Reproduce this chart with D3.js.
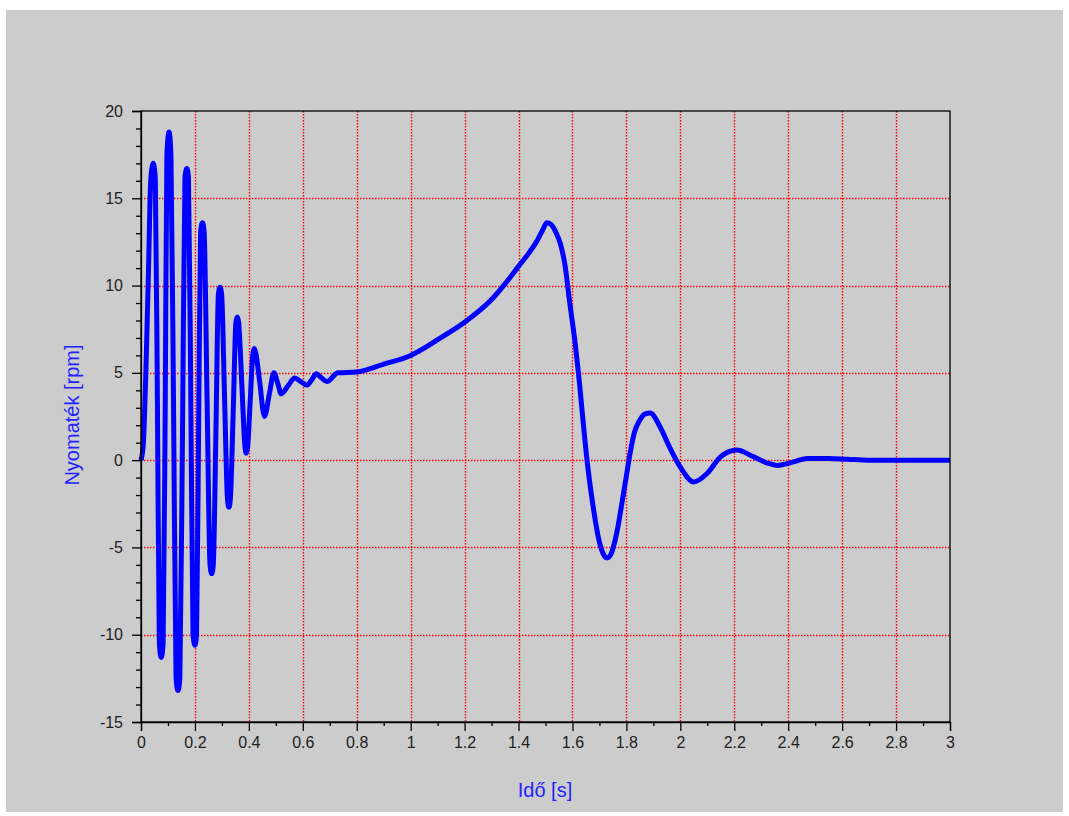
<!DOCTYPE html>
<html>
<head>
<meta charset="utf-8">
<script src="https://cdn.jsdelivr.net/npm/d3@7"></script>
<style>
  body { margin: 0; background: #ffffff; }
  svg { display: block; }
</style>
</head>
<body>
<div id="chart"></div>
<script>
// idő (s)
var timeS = [0, 0.008, 0.018, 0.028, 0.036, 0.045, 0.053, 0.061, 0.068, 0.075, 0.082, 0.09,
  0.096, 0.104, 0.111, 0.121, 0.13, 0.137, 0.144, 0.154, 0.163, 0.17, 0.176, 0.185,
  0.193, 0.2, 0.206, 0.214, 0.221, 0.228, 0.234, 0.245, 0.256, 0.262, 0.268, 0.278,
  0.287, 0.293, 0.299, 0.31, 0.321, 0.326, 0.331, 0.342, 0.352, 0.357, 0.362, 0.374,
  0.386, 0.39, 0.395, 0.405, 0.415, 0.42, 0.426, 0.44, 0.458, 0.476, 0.493, 0.507, 0.52,
  0.545, 0.57, 0.593, 0.615, 0.633, 0.65, 0.67, 0.69, 0.73, 0.8, 0.9, 1.0, 1.07, 1.1, 1.2,
  1.3, 1.35, 1.4, 1.44, 1.47, 1.49, 1.505, 1.52, 1.54, 1.555, 1.572, 1.59, 1.61, 1.622,
  1.654, 1.68, 1.70, 1.715, 1.728, 1.745, 1.758, 1.77, 1.784, 1.80, 1.815, 1.83, 1.85,
  1.87, 1.888, 1.925, 1.96, 2.0, 2.05, 2.10, 2.15, 2.21, 2.27, 2.32, 2.36, 2.42, 2.47,
  2.55, 2.62, 2.7, 2.8, 3.0];

// nyomaték
var torque = [0, 0.8, 5, 11, 16.0, 17.0, 16.2, 3, -10.5, -11.3, -10.5, 3.5,
  17.5, 18.8, 17.5, 2.5, -12.5, -13.2, -12.5, 1.8, 16.2, 16.7, 16.2, 3,
  -10.0, -10.6, -10.0, 2.5, 13.1, 13.6, 13.1, 3.5, -6.0, -6.5, -6.0, 1.8,
  9.5, 9.9, 9.5, 3.5, -2.3, -2.7, -2.3, 2.8, 7.9, 8.2, 7.9, 4.3,
  0.7, 0.4, 0.7, 3.4, 6.1, 6.4, 6.1, 4.5, 2.5, 3.8, 5.0, 4.4, 3.8,
  4.25, 4.7, 4.5, 4.3, 4.6, 4.95, 4.7, 4.5, 5.0, 5.05, 5.5, 6.0, 6.6, 6.9, 7.9,
  9.2, 10.1, 11.1, 11.9, 12.6, 13.2, 13.6, 13.5, 13.0, 12.4, 11.2, 9.0, 6.7, 5.0,
  0, -3.0, -4.7, -5.4, -5.6, -5.3, -4.6, -3.7, -2.4, -0.9, 0.5, 1.6, 2.3,
  2.65, 2.7, 1.9, 0.75, -0.4, -1.25, -0.75, 0.2, 0.58, 0.2, -0.15, -0.3, -0.1, 0.1,
  0.1, 0.05, 0, 0, 0];

// tengelyek
var xTicks = [0, 0.2, 0.4, 0.6, 0.8, 1, 1.2, 1.4, 1.6, 1.8, 2, 2.2, 2.4, 2.6, 2.8, 3];
var xTickLabels = ["0", "0.2", "0.4", "0.6", "0.8", "1", "1.2", "1.4", "1.6", "1.8", "2", "2.2", "2.4", "2.6", "2.8", "3"];
var xMinor = [0.1, 0.3, 0.5, 0.7, 0.9, 1.1, 1.3, 1.5, 1.7, 1.9, 2.1, 2.3, 2.5, 2.7, 2.9];
var yTicks = [-15, -10, -5, 0, 5, 10, 15, 20];
var yTickLabels = ["-15", "-10", "-5", "0", "5", "10", "15", "20"];
var yMinor = [-14, -13, -12, -11, -9, -8, -7, -6, -4, -3, -2, -1, 1, 2, 3, 4,
  6, 7, 8, 9, 11, 12, 13, 14, 16, 17, 18, 19];

var width = 1069;
var height = 816;
var margin = { top: 111, bottom: 94, left: 141, right: 119 };

var svg = d3.select("#chart")
  .append("svg")
  .attr("width", width)
  .attr("height", height);

// szürke háttér
svg.append("rect")
  .attr("x", 6)
  .attr("y", 10)
  .attr("width", 1057)
  .attr("height", 802)
  .style("fill", "#cccccc");

var escalaX = d3.scaleLinear()
  .domain([0, 3])
  .range([margin.left, width - margin.right]);

var escalaY = d3.scaleLinear()
  .domain([-15, 20])
  .range([height - margin.bottom, margin.top]);

// rács
var grid = svg.append("g");
grid.selectAll(".gx")
  .data(xTicks.slice(1, -1))
  .enter()
  .append("line")
  .attr("x1", function (d) { return Math.round(escalaX(d)) + 0.5; })
  .attr("x2", function (d) { return Math.round(escalaX(d)) + 0.5; })
  .attr("y1", escalaY(20))
  .attr("y2", escalaY(-15))
  .attr("stroke", "#ff0000")
  .attr("stroke-width", 1.4)
  .attr("stroke-dasharray", "1.4,1.6");

grid.selectAll(".gy")
  .data(yTicks.slice(1, -1))
  .enter()
  .append("line")
  .attr("y1", function (d) { return Math.round(escalaY(d)) + 0.5; })
  .attr("y2", function (d) { return Math.round(escalaY(d)) + 0.5; })
  .attr("x1", escalaX(0))
  .attr("x2", escalaX(3))
  .attr("stroke", "#ff0000")
  .attr("stroke-width", 1.4)
  .attr("stroke-dasharray", "1.4,1.6");

// görbe
var dataset = timeS.map(function (t, i) { return { t: t, v: torque[i] }; });

var line = d3.line()
  .x(function (d) { return escalaX(d.t); })
  .y(function (d) { return escalaY(d.v); })
  .curve(d3.curveMonotoneX);

svg.append("path")
  .datum(dataset)
  .attr("fill", "none")
  .attr("stroke", "#0000ff")
  .attr("stroke-width", 5)
  .attr("stroke-linejoin", "round")
  .attr("d", line);

// keret
svg.append("rect")
  .attr("x", escalaX(0))
  .attr("y", escalaY(20))
  .attr("width", escalaX(3) - escalaX(0))
  .attr("height", escalaY(-15) - escalaY(20))
  .attr("fill", "none")
  .attr("stroke", "#000")
  .attr("stroke-width", 1.3);

// X tengely
var ejeX = d3.axisBottom(escalaX)
  .tickValues(xTicks)
  .tickFormat(function (d, i) { return xTickLabels[i]; })
  .tickSize(9)
  .tickPadding(6);

svg.append("g")
  .attr("transform", "translate(0," + escalaY(-15) + ")")
  .call(ejeX);

svg.append("g")
  .attr("transform", "translate(0," + escalaY(-15) + ")")
  .call(d3.axisBottom(escalaX).tickValues(xMinor).tickSize(4).tickFormat(""))
  .select(".domain").remove();

// Y tengely
var ejeY = d3.axisLeft(escalaY)
  .tickValues(yTicks)
  .tickFormat(function (d, i) { return yTickLabels[i]; })
  .tickSize(9)
  .tickPadding(9);

svg.append("g")
  .attr("transform", "translate(" + escalaX(0) + ",0)")
  .call(ejeY);

svg.append("g")
  .attr("transform", "translate(" + escalaX(0) + ",0)")
  .call(d3.axisLeft(escalaY).tickValues(yMinor).tickSize(5).tickFormat(""))
  .select(".domain").remove();

svg.selectAll(".tick line").attr("stroke", "#000").attr("stroke-width", 1.3);
svg.selectAll(".domain").attr("stroke", "#000").attr("stroke-width", 1.3);
svg.selectAll(".tick text")
  .style("font-family", "'Liberation Sans', Arial, sans-serif")
  .style("font-size", "16px")
  .style("fill", "#222");

// tengelycímek
svg.append("text")
  .text("Idő [s]")
  .attr("x", 545)
  .attr("y", 797)
  .style("text-anchor", "middle")
  .style("font-family", "'Liberation Sans', Arial, sans-serif")
  .style("font-size", "20px")
  .style("fill", "#2222ff");

svg.append("text")
  .text("Nyomaték [rpm]")
  .attr("transform", "translate(79,415) rotate(-90)")
  .style("text-anchor", "middle")
  .style("font-family", "'Liberation Sans', Arial, sans-serif")
  .style("font-size", "20px")
  .style("fill", "#2222ff");
</script>
</body>
</html>
